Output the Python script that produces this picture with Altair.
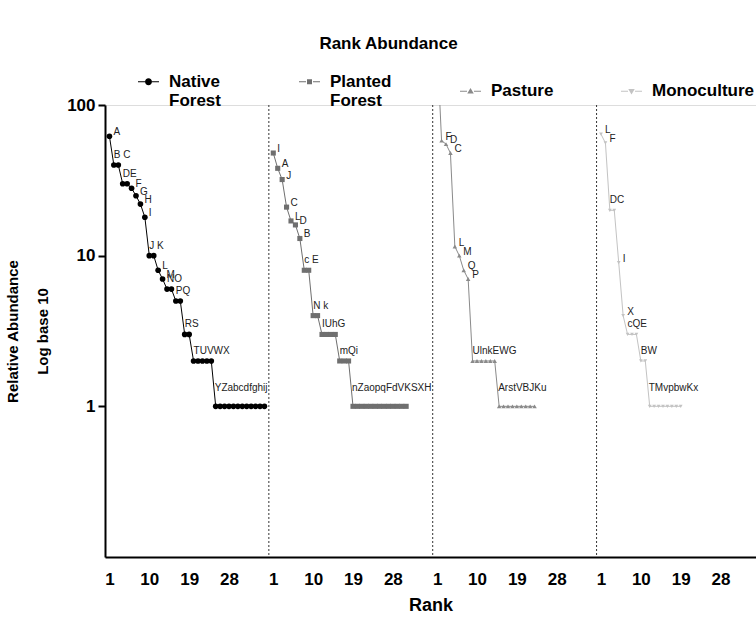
import altair as alt
import pandas as pd

# ---------------- data ----------------
series_names = ["Native Forest", "Planted Forest", "Pasture", "Monoculture"]
series_colors = ["#000000", "#6f6f6f", "#8a8a8a", "#c3c3c3"]

native_values = [62, 40, 40, 30, 30, 28, 25, 22, 18, 10, 10, 8, 7, 6, 6, 5, 5, 3, 3,
                 2, 2, 2, 2, 2, 1, 1, 1, 1, 1, 1, 1, 1, 1, 1, 1, 1]
native_labels = ["A", "B C", "DE", "F", "G", "H", "I", "J K", "L", "M", "NO", "PQ",
                 "RS", "TUVWX", "YZabcdfghij"]

planted_values = [48, 38, 32, 21, 17, 16, 13, 8, 8, 4, 4, 3, 3, 3, 3, 2, 2, 2,
                  1, 1, 1, 1, 1, 1, 1, 1, 1, 1, 1, 1, 1]
planted_labels = ["I", "A", "J", "C", "L", "D", "B", "c E", "N k", "IUhG", "mQi",
                  "nZaopqFdVKSXH"]

pasture_values = [250, 58, 55, 48, 11.5, 10, 8, 7, 2, 2, 2, 2, 2, 2,
                  1, 1, 1, 1, 1, 1, 1, 1, 1]
pasture_labels = ["", "F", "D", "C", "L", "M", "Q", "P", "UlnkEWG", "ArstVBJKu"]

mono_values = [64, 56, 20, 20, 9, 4, 3, 3, 3, 2, 2, 1, 1, 1, 1, 1, 1, 1, 1]
mono_labels = ["L", "F", "DC", "I", "X", "cQE", "BW", "TMvpbwKx"]

rank_ticks = [1, 10, 19, 28]
y_ticks = [1, 10, 100]

PANEL = 37  # ranks per panel

# ---------------- build tables ----------------
all_values = [native_values, planted_values, pasture_values, mono_values]
all_labels = [native_labels, planted_labels, pasture_labels, mono_labels]

rows, label_rows = [], []
for i, (name, vals, labs) in enumerate(zip(series_names, all_values, all_labels)):
    groups = []
    for r, v in enumerate(vals, start=1):
        rows.append({"series": name, "rank": r, "pos": i * PANEL + r, "value": v})
        if groups and groups[-1][1] == v:
            groups[-1][2] += 1
        else:
            groups.append([r, v, 1])
    for gi, ((r, v, n), lab) in enumerate(zip(groups, labs)):
        if gi == len(groups) - 1 and n > 1:
            kind = "tail"
        elif n > 1:
            kind = "multi"
        else:
            kind = "single"
        label_rows.append({"series": name, "pos": i * PANEL + r, "value": v,
                           "label": lab, "kind": kind})

df = pd.DataFrame(rows)
lab_df = pd.DataFrame(label_rows)
lab_df = lab_df[lab_df["value"] <= 100]
sep_df = pd.DataFrame({"pos": [PANEL * k for k in range(1, len(series_names))]})

x_tick_values = [i * PANEL + t for i in range(len(series_names)) for t in rank_ticks]

FONT = "Liberation Sans, Arial, sans-serif"

x_scale = alt.Scale(domain=[0, 147], nice=False, zero=False)
y_scale = alt.Scale(type="log", domain=[0.1, 100], nice=False)
color_scale = alt.Scale(domain=series_names, range=series_colors)

x_enc = alt.X("pos:Q", scale=x_scale,
              axis=alt.Axis(values=x_tick_values, labelExpr="datum.value % 37",
                            title="Rank", ticks=False, grid=False,
                            domainWidth=2, domainColor="black",
                            labelFont=FONT, labelFontSize=17, labelFontWeight="bold",
                            labelColor="black", labelPadding=14,
                            titleFont=FONT, titleFontSize=18, titleFontWeight="bold",
                            titleColor="black", titlePadding=9,
                            labelOverlap=False))
y_enc = alt.Y("value:Q", scale=y_scale,
              axis=alt.Axis(values=y_ticks, format="d",
                            title=["Relative Abundance", "Log base 10"],
                            grid=False, domainWidth=2, domainColor="black",
                            tickWidth=2, tickSize=7, tickColor="black",
                            labelFont=FONT, labelFontSize=17, labelFontWeight="bold",
                            labelColor="black", labelPadding=3,
                            titleFont=FONT, titleFontSize=15, titleFontWeight="bold",
                            titleColor="black", titleLineHeight=30, titlePadding=16))

base = alt.Chart(df)

lines = base.mark_line(strokeWidth=1, clip=True).encode(
    x=x_enc, y=y_enc,
    color=alt.Color("series:N", scale=color_scale, legend=None),
)

points = base.mark_point(filled=True, opacity=1, clip=True).encode(
    x="pos:Q", y="value:Q",
    color=alt.Color("series:N", scale=color_scale, legend=None),
    shape=alt.Shape("series:N", scale=alt.Scale(domain=series_names,
                    range=["circle", "square", "triangle-up", "triangle-down"]), legend=None),
    size=alt.Size("series:N", scale=alt.Scale(domain=series_names, range=[32, 14, 22, 22]),
                  legend=None),
)

seg = "M-2.1,-0.12H-0.7V0.12H-2.1Z M0.7,-0.12H2.1V0.12H0.7Z "
legend_paths = [
    seg + "M0.7,0A0.7,0.7 0 1,1 -0.7,0A0.7,0.7 0 1,1 0.7,0Z",
    seg + "M-0.5,-0.5H0.5V0.5H-0.5Z",
    seg + "M0,-0.65L0.65,0.45L-0.65,0.45Z",
    seg + "M0,0.65L0.65,-0.45L-0.65,-0.45Z",
]

legend_layer = base.transform_filter("false").mark_point(filled=True, opacity=1).encode(
    color=alt.Color("series:N", scale=color_scale,
                    legend=alt.Legend(title=None, orient="none", legendX=35, legendY=-32,
                                      direction="horizontal", columns=4, gridAlign="all",
                                      columnPadding=25, symbolSize=100, labelOffset=12,
                                      labelExpr="split(datum.label, ' ')",
                                      labelFont=FONT, labelFontSize=17,
                                      labelFontWeight="bold", labelColor="black",
                                      symbolOpacity=1)),
    shape=alt.Shape("series:N", scale=alt.Scale(domain=series_names, range=legend_paths)),
)

seps = alt.Chart(sep_df).mark_rule(strokeDash=[2, 2], strokeWidth=1).encode(
    x="pos:Q", color=alt.value("#333333")
)

text_common = dict(fontSize=10, font=FONT, align="left", baseline="middle")
lab_base = alt.Chart(lab_df).encode(x="pos:Q", y="value:Q", text="label:N",
                                    color=alt.value("#222222"))
lab_single = lab_base.transform_filter("datum.kind == 'single'").mark_text(
    dx=4, dy=-4, **text_common)
lab_multi = lab_base.transform_filter("datum.kind == 'multi'").mark_text(
    dx=0, dy=-10, **text_common)
lab_tail = lab_base.transform_filter("datum.kind == 'tail'").mark_text(
    dx=-1, dy=-18, **text_common)

chart = alt.layer(seps, lines, points, lab_single, lab_multi, lab_tail, legend_layer).resolve_scale(
    color="independent", shape="independent"
).properties(
    width=651, height=452,
    title=alt.TitleParams("Rank Abundance", font=FONT, fontSize=17, fontWeight="bold",
                          color="black", anchor="middle", frame="group", dx=-42, offset=20),
    autosize=alt.AutoSizeParams(type="none"),
    padding={"left": 105, "top": 105, "right": 0, "bottom": 61},
).configure_view(stroke=None).configure(background="white")

chart.save("out.html", embed_options={"renderer": "svg", "actions": False})
